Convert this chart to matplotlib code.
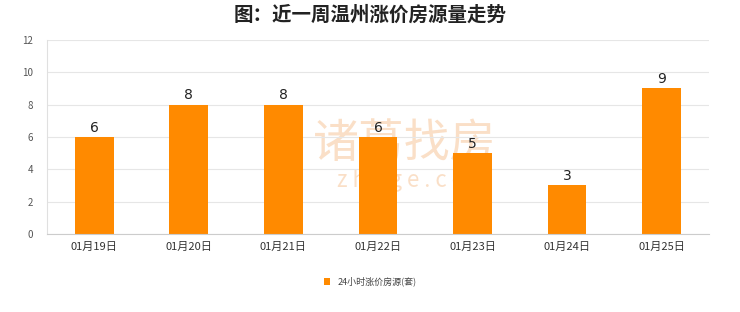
import matplotlib
matplotlib.use('Agg')
import matplotlib.pyplot as plt

plt.rcParams['font.family'] = ['Noto Sans CJK SC', 'DejaVu Sans']

dates = ['01月19日', '01月20日', '01月21日', '01月22日', '01月23日', '01月24日', '01月25日']
counts = [6, 8, 8, 6, 5, 3, 9]
series_name = '24小时涨价房源(套)'
title = '图：近一周温州涨价房源量走势'

bar_color = '#ff8a00'

fig = plt.figure(figsize=(7.4, 3.12), dpi=100)
ax = fig.add_axes([0.0635, 0.25, 0.8945, 0.622])

x = list(range(len(dates)))
bars = ax.bar(x, counts, width=0.41, color=bar_color, zorder=2, label=series_name)
for xi, v in zip(x, counts):
    ax.text(xi, v + 0.15, str(v), ha='center', va='bottom', fontsize=10, color='#222222',
            family='DejaVu Sans', zorder=3)

ax.set_xlim(-0.5, len(dates) - 0.5)
ax.set_ylim(0, 12)
ax.set_yticks(range(0, 13, 2))
ax.set_xticks(x)
ax.set_xticklabels(dates, fontsize=8, color='#333333')
ax.tick_params(axis='y', labelsize=7, colors='#555555', length=0, pad=10)
ax.tick_params(axis='x', length=0, pad=6)
ax.grid(axis='y', color='#e6e6e6', linewidth=0.8, zorder=0)
for side in ['top', 'right']:
    ax.spines[side].set_visible(False)
ax.spines['left'].set_color('#e0e0e0')
ax.spines['bottom'].set_color('#cccccc')

# watermark behind the bars
ax.text(3.28, 5.6, '诸葛找房', ha='center', va='center', fontsize=33, color='#f8d2b0',
        alpha=0.7, zorder=1)
ax.text(3.38, 3.3, 'z h u g e . c o m', ha='center', va='center', fontsize=16, color='#f8d2b0',
        alpha=0.7, zorder=1)

fig.text(0.5, 0.952, title, ha='center', va='center', fontsize=14, fontweight='bold', color='#222222')

leg = fig.legend(loc='center', bbox_to_anchor=(0.5, 0.097), frameon=False, fontsize=6.5,
                 handlelength=0.7, handleheight=0.7)
for t in leg.get_texts():
    t.set_color('#444444')

fig.savefig('out.png', dpi=100, facecolor='white')
